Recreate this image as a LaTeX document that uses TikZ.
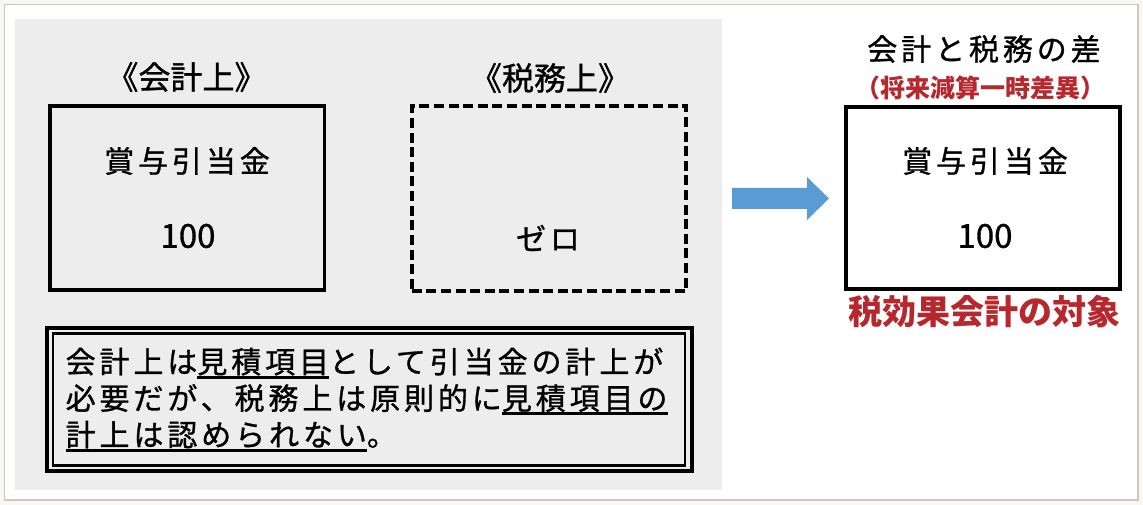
\documentclass[tikz,border=0pt]{standalone}
\usepackage{fontspec}
\setmainfont[FakeBold=1]{Noto Sans CJK JP}
\newfontfamily\jp[LetterSpace=13,FakeBold=1]{Noto Sans CJK JP}
\newfontfamily\jpbold{Noto Sans CJK JP}
\usepackage{tikz}
\usepackage{xcolor}
\definecolor{panelgray}{HTML}{EDEDED}
\definecolor{framegray}{HTML}{C8C8C8}
\definecolor{cream}{HTML}{F8F6EF}
\definecolor{arrowblue}{HTML}{5B9BD5}
\definecolor{taxred}{HTML}{B7282E}
\newsavebox{\ulbox}
\newcommand{\ulword}[1]{\sbox{\ulbox}{#1}\rlap{\rule[-5.5pt]{\wd\ulbox}{3pt}}\usebox{\ulbox}}

\begin{document}
\begin{tikzpicture}[x=1pt,y=-1pt,
  box/.style={draw,line width=3.5pt,minimum width=274.5pt,minimum height=184pt},
  lbl/.style={font=\fontsize{32}{35}\selectfont},
  big/.style={font=\jp\fontsize{30}{33}\selectfont},
  num/.style={font=\fontsize{33}{36}\selectfont},
  redtxt/.style={text=taxred,font=\jpbold\bfseries\fontsize{#1}{#1}\selectfont}]
\useasboundingbox (0,0) rectangle (1143,505);
\fill[cream] (0,0) rectangle (1143,505);
\draw[framegray,fill=white,line width=1.2pt] (4.5,4.5) rectangle (1138,500);
\fill[panelgray] (15,19) rectangle (722,490);
% boxes
\node[box] (kaikei) at (187,198) {};
\node[box,line width=4pt,dash pattern=on 10pt off 4.6pt] (zeimu) at (549,198.5) {};
\node[box,line width=4pt,minimum width=274pt,minimum height=182pt] (sa) at (983,198) {};
\node[draw,line width=4pt,minimum width=645pt,minimum height=143pt] (note) at (369,399.5) {};
\node[draw,line width=2.5pt,minimum width=632pt,minimum height=132pt] (noteinner) at (369,399.5) {};
% left side
\node[lbl] (kaikeilbl) at (186.5,77) {《会計上》};
\node[lbl] (zeimulbl) at (550,78) {《税務上》};
\node[big] (kaikeiname) at (187,161) {賞与引当金};
\node[num] (kaikeival) at (188,236) {100};
\node[big] (zero) at (548,238) {ゼロ};
\node[big,anchor=base west,inner sep=0] (line1) at (65.5,373) {会計上は\ulword{見積項目}として引当金の計上が};
\node[big,anchor=base west,inner sep=0] (line2) at (65.5,409.5) {必要だが、税務上は原則的に\ulword{見積項目の}};
\node[big,anchor=base west,inner sep=0] (line3) at (65.5,446) {\ulword{計上は認められない}。};
% arrow
\fill[arrowblue] (732,188) -- (807,188) -- (807,177) -- (829,198.5) -- (807,220) -- (807,209) -- (732,209) -- cycle;
% right side
\node[big] (satitle) at (984,49) {会計と税務の差};
\node[redtxt=25] (sasub) at (980,87.5) {（将来減算一時差異）};
\node[big] (saname) at (985,161) {賞与引当金};
\node[num] (saval) at (985,236) {100};
\node[redtxt=34] (target) at (984,311.5) {税効果会計の対象};
\end{tikzpicture}
\end{document}
